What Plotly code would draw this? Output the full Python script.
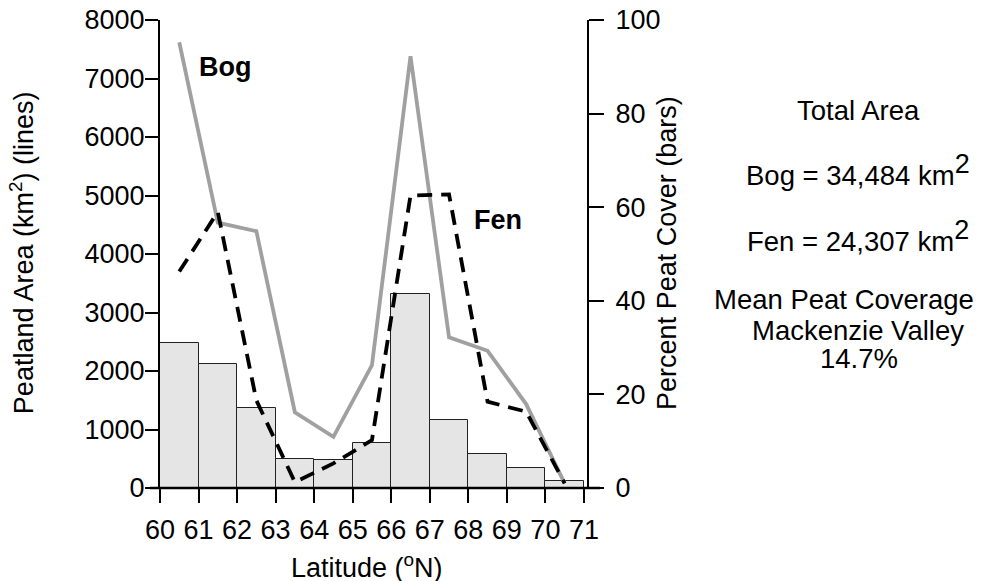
import plotly.graph_objects as go

# ---- data ----
latitude_mid = [60.5, 61.5, 62.5, 63.5, 64.5, 65.5, 66.5, 67.5, 68.5, 69.5, 70.5]
bog_area = [7620, 4535, 4390, 1295, 875, 2100, 7380, 2575, 2345, 1435, 80]
fen_area = [3700, 4720, 1500, 100, 420, 820, 5000, 5020, 1475, 1305, 80]
peat_cover_pct = [30.9, 26.4, 17.2, 6.3, 5.9, 9.7, 41.4, 14.6, 7.2, 4.2, 1.4]
x_ticks = list(range(60, 72))
left_ticks = list(range(0, 8001, 1000))
right_ticks = list(range(0, 101, 20))

FONT = "Liberation Sans, Arial, Helvetica, sans-serif"
FS = 27
FS_SIDE = 27.5

fig = go.Figure()

fig.add_trace(go.Bar(
    x=latitude_mid, y=peat_cover_pct, width=1.0, yaxis="y",
    marker=dict(color="#e5e5e5", line=dict(color="#222222", width=1)),
    showlegend=False, hoverinfo="skip"))

fig.add_trace(go.Scatter(
    x=latitude_mid, y=bog_area, yaxis="y2", mode="lines",
    line=dict(color="#a0a0a0", width=3.8), showlegend=False))

fig.add_trace(go.Scatter(
    x=latitude_mid, y=fen_area, yaxis="y2", mode="lines",
    line=dict(color="black", width=3.8, dash="15px,9px"), showlegend=False))

# page has an 8px body margin: figure is 994x573 placed at (8,8)
fig.update_layout(
    width=994, height=573,
    margin=dict(l=152, r=415, t=12, b=93, autoexpand=False),
    paper_bgcolor="white", plot_bgcolor="white",
    font=dict(family=FONT, size=FS, color="black"),
    bargap=0,
    xaxis=dict(range=[60, 71.08], tickvals=x_ticks, ticks="outside", ticklen=14,
               tickwidth=2, tickcolor="black", showline=False, showgrid=False,
               zeroline=False, ticklabelstandoff=4, automargin=False,
               ticklabeloverflow="allow", tickfont=dict(family=FONT, size=FS)),
    yaxis=dict(range=[0, 100], side="right", tickvals=right_ticks, ticks="outside",
               ticklen=15, tickwidth=2, tickcolor="black", showline=True,
               linecolor="black", linewidth=2, showgrid=False, zeroline=False,
               ticklabelstandoff=6, automargin=False, ticklabeloverflow="allow",
               tickfont=dict(family=FONT, size=FS)),
    yaxis2=dict(range=[0, 8000], side="left", overlaying="y", tickvals=left_ticks,
                ticks="outside", ticklen=13, tickwidth=2, tickcolor="black",
                showline=True, linecolor="black", linewidth=2, showgrid=False,
                zeroline=False, ticklabelstandoff=-5, automargin=False,
                ticklabeloverflow="allow", tickfont=dict(family=FONT, size=FS)),
)

# x axis baseline extending past the plot edges
fig.add_shape(type="line", xref="paper", yref="paper", x0=-0.0234, x1=1.0304,
              y0=0, y1=0, line=dict(color="black", width=2.5), layer="above")

ann = []
ann.append(dict(text="Latitude (<sup>o</sup>N)", xref="paper", yref="paper",
                x=0.4848, y=-0.166, xanchor="center", yanchor="middle", showarrow=False))
ann.append(dict(text="Peatland Area (km<sup>2</sup>) (lines)", xref="paper", yref="paper",
                x=-0.323, y=0.502, textangle=-90, xanchor="center", yanchor="middle",
                showarrow=False))
ann.append(dict(text="Percent Peat Cover (bars)", xref="paper", yref="paper",
                x=1.187, y=0.502, textangle=-90, xanchor="center", yanchor="middle",
                showarrow=False))
ann.append(dict(text="<b>Bog</b>", xref="x", yref="y2", x=60.95, y=7202,
                xanchor="left", yanchor="middle", showarrow=False))
ann.append(dict(text="<b>Fen</b>", xref="x", yref="y2", x=68.1, y=4581,
                xanchor="left", yanchor="middle", showarrow=False))
big2 = "<sup><span style='font-size:27px'>2</span></sup>"
side_lines = [
    ("Total Area", 858, 111),
    ("Bog = 34,484 km" + big2, 858, 170),
    ("Fen = 24,307 km" + big2, 858, 235.5),
    ("Mean Peat Coverage", 844, 299),
    ("Mackenzie Valley", 858, 330),
    ("14.7%", 859, 358.5),
]
for txt, xpix, ypix in side_lines:
    ann.append(dict(text=txt, xref="paper", yref="paper",
                    x=(xpix - 160) / 427, y=(488 - ypix) / 468,
                    xanchor="center", yanchor="middle", showarrow=False,
                    font=dict(size=FS_SIDE)))
fig.update_layout(annotations=ann)

fig.write_html("out.html")
